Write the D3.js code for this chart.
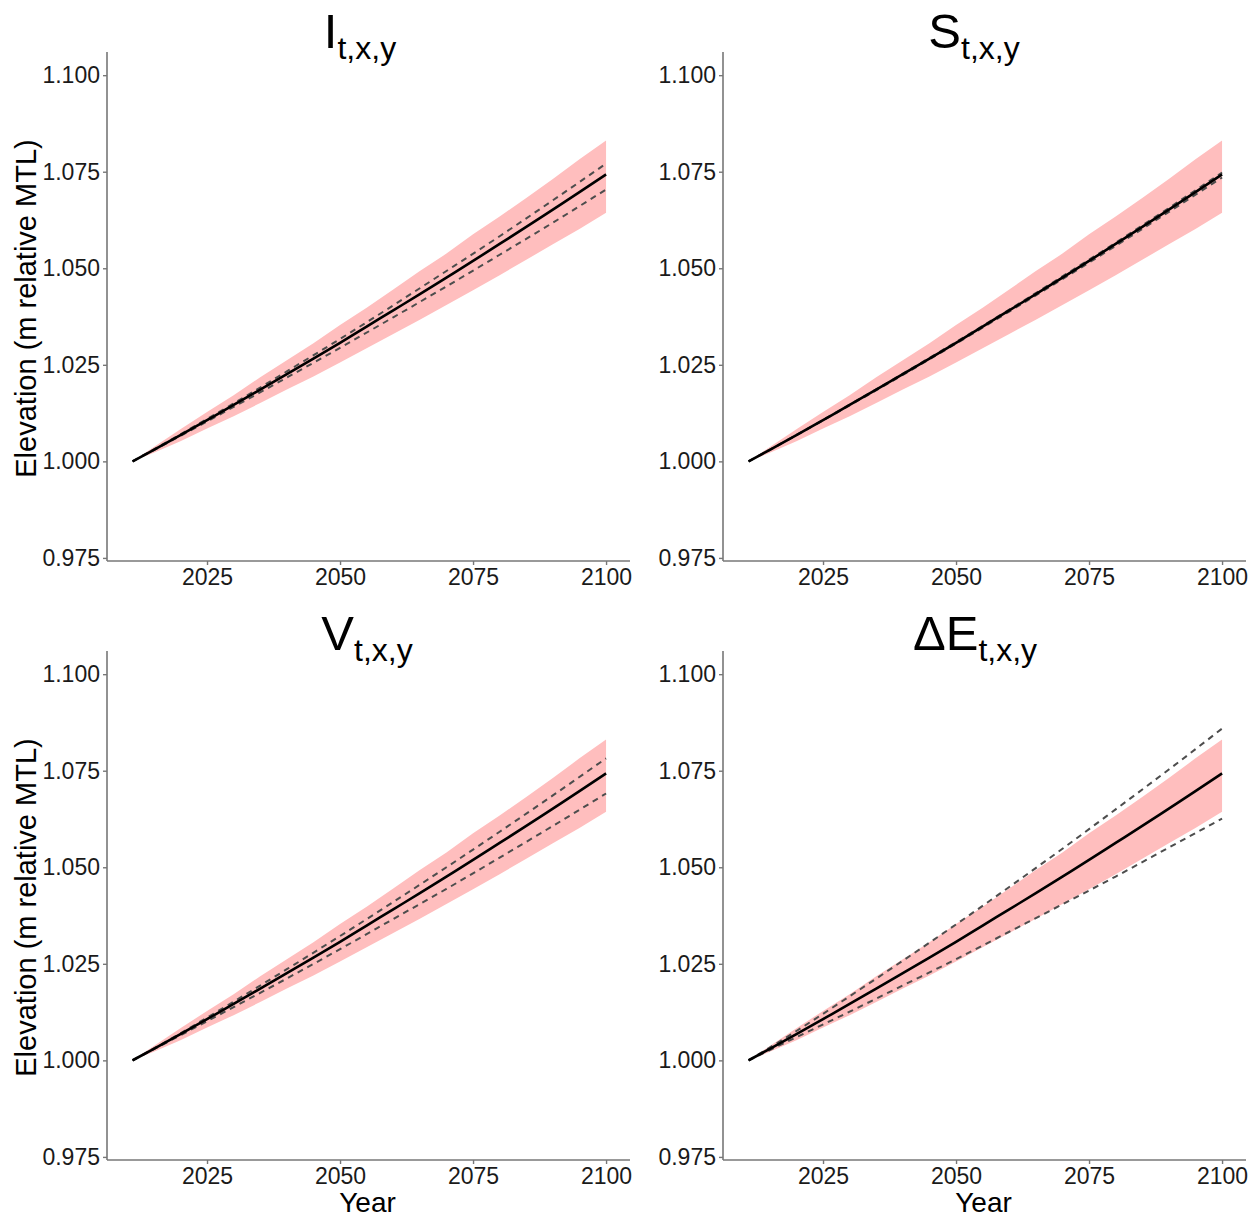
<!DOCTYPE html>
<html>
<head>
<meta charset="utf-8">
<script src="https://cdn.jsdelivr.net/npm/d3@7"></script>
<style>
  html, body { margin: 0; padding: 0; background: #fff; }
  svg { display: block; font-family: "Liberation Sans", Arial, sans-serif; }
</style>
</head>
<body>
<svg id="chart" width="1260" height="1220"></svg>
<script>
// ---------------- data ----------------
const years = [2011, 2015, 2020, 2025, 2030, 2035, 2040, 2045, 2050, 2055, 2060, 2065, 2070, 2075, 2080, 2085, 2090, 2095, 2100];
const median = [1.0000, 1.0030, 1.0068, 1.0107, 1.0146, 1.0186, 1.0226, 1.0266, 1.0307, 1.0349, 1.0391, 1.0433, 1.0476, 1.0519, 1.0563, 1.0607, 1.0652, 1.0697, 1.0743];
const ribbonUpper = [1.0000, 1.0037, 1.0083, 1.0128, 1.0171, 1.0218, 1.0262, 1.0306, 1.0353, 1.0398, 1.0445, 1.0493, 1.0538, 1.0588, 1.0634, 1.0682, 1.0731, 1.0782, 1.0831];
const ribbonLower = [1.0000, 1.0022, 1.0052, 1.0085, 1.0117, 1.0151, 1.0186, 1.0220, 1.0256, 1.0293, 1.0330, 1.0367, 1.0405, 1.0443, 1.0482, 1.0522, 1.0562, 1.0602, 1.0644];

const dashYears = [2011, 2020, 2030, 2040, 2050, 2060, 2070, 2080, 2090, 2100];
const iUpper = [1.0000, 1.0070, 1.0150, 1.0233, 1.0317, 1.0404, 1.0493, 1.0583, 1.0676, 1.0771];
const iLower = [1.0000, 1.0066, 1.0141, 1.0217, 1.0294, 1.0373, 1.0453, 1.0535, 1.0618, 1.0704];
const sUpper = [1.0000, 1.0068, 1.0147, 1.0227, 1.0309, 1.0393, 1.0479, 1.0566, 1.0656, 1.0748];
const sLower = [1.0000, 1.0068, 1.0145, 1.0224, 1.0305, 1.0388, 1.0472, 1.0558, 1.0646, 1.0735];
const vUpper = [1.0000, 1.0070, 1.0152, 1.0236, 1.0322, 1.0410, 1.0500, 1.0592, 1.0686, 1.0782];
const vLower = [1.0000, 1.0065, 1.0138, 1.0212, 1.0288, 1.0366, 1.0444, 1.0525, 1.0607, 1.0691];
const eUpper = [1.0000, 1.0076, 1.0166, 1.0258, 1.0352, 1.0449, 1.0548, 1.0650, 1.0753, 1.0859];
const eLower = [1.0000, 1.0060, 1.0126, 1.0194, 1.0262, 1.0333, 1.0404, 1.0476, 1.0551, 1.0626];

const titleMain = ["I", "S", "V", "\u0394E"];
const titleSub = "t,x,y";
const yTicks = [0.975, 1.000, 1.025, 1.050, 1.075, 1.100];
const xTicks = [2025, 2050, 2075, 2100];
const yLabel = "Elevation (m relative MTL)";
const xLabel = "Year";

// ---------------- layout ----------------
const panels = [
  { left: 107, right: 630,  top: 52,  bottom: 561,  title: titleMain[0], up: iUpper, lo: iLower, tx: 360, ty: 48,  yLab: true,  xLab: false },
  { left: 723, right: 1246, top: 52,  bottom: 561,  title: titleMain[1], up: sUpper, lo: sLower, tx: 974, ty: 48,  yLab: false, xLab: false },
  { left: 107, right: 630,  top: 651, bottom: 1160, title: titleMain[2], up: vUpper, lo: vLower, tx: 367, ty: 650, yLab: true,  xLab: true },
  { left: 723, right: 1246, top: 651, bottom: 1160, title: titleMain[3], up: eUpper, lo: eLower, tx: 975, ty: 650, yLab: false, xLab: true }
];

const svg = d3.select("#chart");
const ribbonData = years.map((y, i) => ({ year: y, lo: ribbonLower[i], hi: ribbonUpper[i], med: median[i] }));

panels.forEach(p => {
  const x = d3.scaleLinear().domain([2006.2, 2104.5]).range([p.left, p.right]);
  const y = d3.scaleLinear().domain([0.9742, 1.106]).range([p.bottom, p.top]);
  const g = svg.append("g");

  // ribbon
  g.append("path")
    .datum(ribbonData)
    .attr("fill", "#ffbebe")
    .attr("d", d3.area().x(d => x(d.year)).y0(d => y(d.lo)).y1(d => y(d.hi)));

  // dashed lines
  const dashLine = d3.line().x(d => x(d[0])).y(d => y(d[1])).curve(d3.curveMonotoneX);
  [p.up, p.lo].forEach(arr => {
    g.append("path")
      .datum(dashYears.map((yr, i) => [yr, arr[i]]))
      .attr("fill", "none")
      .attr("stroke", "#4d4d4d")
      .attr("stroke-width", 2)
      .attr("stroke-dasharray", "6,5")
      .attr("d", dashLine);
  });

  // median
  g.append("path")
    .datum(ribbonData)
    .attr("fill", "none")
    .attr("stroke", "#000")
    .attr("stroke-width", 2.6)
    .attr("d", d3.line().x(d => x(d.year)).y(d => y(d.med)).curve(d3.curveMonotoneX));

  // axes
  const yAxis = d3.axisLeft(y).tickValues(yTicks).tickFormat(d3.format(".3f")).tickSize(4).tickPadding(3).tickSizeOuter(0);
  const ya = g.append("g").attr("transform", `translate(${p.left},0)`).call(yAxis);
  const xAxis = d3.axisBottom(x).tickValues(xTicks).tickFormat(d3.format("d")).tickSize(4).tickPadding(4).tickSizeOuter(0);
  const xa = g.append("g").attr("transform", `translate(0,${p.bottom})`).call(xAxis);
  [ya, xa].forEach(a => {
    a.select(".domain").attr("stroke", "#777").attr("stroke-width", 1.6);
    a.selectAll(".tick line").attr("stroke", "#777").attr("stroke-width", 1.4);
    a.selectAll(".tick text").attr("fill", "#1a1a1a").style("font-size", "23px").style("font-family", "'Liberation Sans', Arial, sans-serif");
  });
  // extend domain lines to panel extents
  ya.select(".domain").attr("d", `M0,${p.top}V${p.bottom}`);
  xa.select(".domain").attr("d", `M${p.left},0H${p.right}`);

  // title
  const t = g.append("text")
    .attr("x", p.tx).attr("y", p.ty)
    .attr("text-anchor", "middle")
    .attr("fill", "#000");
  t.append("tspan").style("font-size", "49px").text(p.title);
  t.append("tspan").style("font-size", "32px").attr("dy", 11).text(titleSub);

  if (p.yLab) {
    const cy = (p.top + p.bottom) / 2 + 2;
    g.append("text")
      .attr("transform", `translate(36,${cy}) rotate(-90)`)
      .attr("text-anchor", "middle")
      .style("font-size", "29px")
      .attr("fill", "#000")
      .text(yLabel);
  }
  if (p.xLab) {
    g.append("text")
      .attr("x", (p.left + p.right) / 2 - 1).attr("y", p.bottom + 52)
      .attr("text-anchor", "middle")
      .style("font-size", "28px")
      .attr("fill", "#000")
      .text(xLabel);
  }
});
</script>
</body>
</html>
